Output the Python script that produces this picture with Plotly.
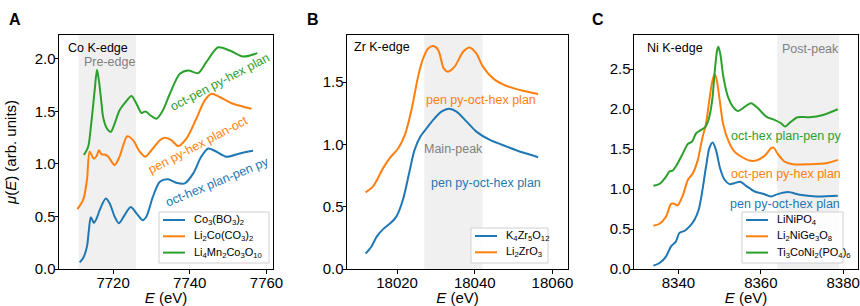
import plotly.graph_objects as go

# ---------------- Panel A : Co K-edge ----------------
a_blue_E = [7711.3, 7712.2, 7713.2, 7713.7, 7714.2, 7715.0, 7715.7, 7716.5, 7718.1, 7719.1, 7720.4, 7721.5,
            7722.8, 7724.6, 7726.1, 7727.7, 7728.7, 7730.4, 7732.2, 7734.3, 7736.5, 7738.7, 7740.9, 7743.0,
            7744.8, 7746.5, 7749.6, 7753.0, 7756.5]
a_blue_mu = [0.063, 0.104, 0.215, 0.373, 0.493, 0.44, 0.48, 0.56, 0.67, 0.625, 0.50, 0.436,
             0.50, 0.59, 0.53, 0.465, 0.50, 0.69, 0.83, 0.853, 0.82, 0.815, 0.91, 1.07,
             1.147, 1.125, 1.068, 1.10, 1.125]
a_orange_E = [7710.7, 7712.2, 7713.2, 7713.9, 7715.0, 7715.7, 7716.3, 7717.0, 7717.8, 7718.7, 7720.4, 7721.7,
              7723.7, 7725.2, 7727.0, 7728.4, 7730.0, 7732.2, 7733.5, 7735.2, 7737.0, 7739.1, 7741.7, 7743.9,
              7745.7, 7747.8, 7751.3, 7756.1]
a_orange_mu = [0.57, 0.657, 0.85, 1.115, 1.05, 1.075, 1.13, 1.09, 1.09, 1.07, 0.99, 1.07,
               1.264, 1.226, 1.115, 1.068, 1.13, 1.226, 1.25, 1.226, 1.17, 1.24, 1.43, 1.605,
               1.668, 1.637, 1.573, 1.526]
a_green_E = [7712.4, 7713.5, 7714.3, 7715.2, 7715.8, 7716.3, 7716.9, 7717.4, 7718.4, 7719.4, 7720.4, 7721.7,
             7723.3, 7724.8, 7726.1, 7727.4, 7728.5, 7729.7, 7731.3, 7733.0, 7734.8, 7737.4, 7739.6, 7742.2,
             7744.3, 7747.4, 7750.4, 7753.9, 7757.6]
a_green_mu = [1.084, 1.163, 1.384, 1.70, 1.896, 1.795, 1.605, 1.447, 1.337, 1.305, 1.384, 1.51,
              1.59, 1.646, 1.573, 1.485, 1.50, 1.463, 1.43, 1.51, 1.668, 1.858, 1.89, 1.864,
              1.968, 2.11, 2.079, 2.022, 2.054]
a_names = ["Co<sub>3</sub>(BO<sub>3</sub>)<sub>2</sub>",
           "Li<sub>2</sub>Co(CO<sub>3</sub>)<sub>2</sub>",
           "Li<sub>4</sub>Mn<sub>2</sub>Co<sub>3</sub>O<sub>10</sub>"]
a_shade = [7711, 7726]
a_xticks = [7720, 7740, 7760]
a_yticks = [0.0, 0.5, 1.0, 1.5, 2.0]

# ---------------- Panel B : Zr K-edge ----------------
b_blue_E = [18011.9, 18013.4, 18014.8, 18016.4, 18018.1, 18019.8, 18021.5, 18023.1, 18024.5, 18026.0, 18027.6,
            18029.3, 18031.4, 18033.4, 18035.3, 18037.9, 18040.4, 18043.9, 18048.2, 18052.4, 18056.3]
b_blue_mu = [0.123, 0.181, 0.262, 0.32, 0.363, 0.42, 0.555, 0.77, 0.955, 1.062, 1.129,
             1.196, 1.262, 1.286, 1.262, 1.182, 1.102, 1.035, 0.982, 0.934, 0.897]
b_orange_E = [18011.9, 18013.8, 18016.4, 18018.1, 18020.3, 18022.0, 18023.7, 18025.4, 18026.7, 18028.0, 18029.3,
              18030.6, 18032.0, 18033.1, 18034.8, 18037.0, 18038.7, 18040.4, 18042.1, 18044.7, 18048.2, 18052.4,
              18056.3]
b_orange_mu = [0.614, 0.662, 0.809, 0.889, 0.969, 1.076, 1.276, 1.543, 1.689, 1.769, 1.788,
               1.756, 1.609, 1.583, 1.623, 1.743, 1.777, 1.729, 1.623, 1.529, 1.468, 1.43,
               1.404]
b_names = ["K<sub>4</sub>Zr<sub>5</sub>O<sub>12</sub>", "Li<sub>2</sub>ZrO<sub>3</sub>"]
b_shade = [18027, 18042]
b_xticks = [18020, 18040, 18060]
b_yticks = [0.0, 0.5, 1.0, 1.5]

# ---------------- Panel C : Ni K-edge ----------------
c_blue_E = [8333.9, 8335.4, 8337.0, 8338.2, 8339.4, 8340.2, 8341.5, 8342.7, 8343.9, 8344.9, 8345.7, 8346.7,
            8347.5, 8348.3, 8349.1, 8350.1, 8351.2, 8352.4, 8353.6, 8355.0, 8356.4, 8358.5, 8360.5, 8362.5,
            8364.1, 8366.6, 8369.4, 8373.4, 8378.7]
c_blue_mu = [0.042, 0.075, 0.158, 0.283, 0.345, 0.449, 0.478, 0.532, 0.616, 0.74, 0.948, 1.281,
             1.51, 1.58, 1.489, 1.26, 1.115, 1.061, 1.073, 1.09, 1.04, 0.969, 0.94, 0.907,
             0.936, 0.961, 0.928, 0.907, 0.915]
c_orange_E = [8333.9, 8335.4, 8337.0, 8338.2, 8339.0, 8339.8, 8341.1, 8342.3, 8343.5, 8344.7, 8345.7, 8346.7,
              8347.5, 8348.2, 8348.8, 8349.3, 8350.0, 8350.9, 8352.2, 8353.6, 8355.2, 8357.2, 8358.9, 8360.9,
              8362.5, 8363.1, 8364.1, 8365.7, 8367.8, 8371.8, 8375.9, 8378.7]
c_orange_mu = [0.541, 0.566, 0.657, 0.815, 0.815, 0.795, 0.928, 1.115, 1.198, 1.364, 1.614, 1.822,
               2.113, 2.342, 2.438, 2.363, 2.113, 1.801, 1.593, 1.468, 1.406, 1.356, 1.356, 1.414,
               1.51, 1.518, 1.439, 1.344, 1.31, 1.31, 1.323, 1.364]
c_green_E = [8333.9, 8335.4, 8337.0, 8337.8, 8338.6, 8339.6, 8341.1, 8342.3, 8343.3, 8344.3, 8345.5, 8346.6,
             8347.4, 8348.2, 8348.8, 8349.4, 8349.7, 8350.2, 8350.9, 8352.0, 8353.2, 8354.4, 8355.6, 8357.6,
             8359.3, 8361.3, 8363.3, 8364.9, 8365.9, 8366.9, 8368.9, 8371.8, 8375.1, 8378.7]
c_green_mu = [1.04, 1.065, 1.156, 1.219, 1.231, 1.302, 1.448, 1.564, 1.593, 1.697, 1.739, 1.78,
              1.884, 2.113, 2.467, 2.737, 2.779, 2.675, 2.404, 2.155, 2.03, 1.976, 2.009, 2.072,
              2.009, 1.905, 1.864, 1.822, 1.78, 1.822, 1.897, 1.897, 1.926, 1.997]
c_names = ["LiNiPO<sub>4</sub>", "Li<sub>2</sub>NiGe<sub>3</sub>O<sub>8</sub>",
           "Ti<sub>3</sub>CoNi<sub>2</sub>(PO<sub>4</sub>)<sub>6</sub>"]
c_shade = [8364, 8379]
c_xticks = [8340, 8360, 8380]
c_yticks = [0.0, 0.5, 1.0, 1.5, 2.0, 2.5]

BLUE, ORANGE, GREEN = "#1f77b4", "#ff7f0e", "#2ca02c"
FONT = "Liberation Sans, Arial, sans-serif"
W, H = 860, 306


def px(x, y):
    return x / W, 1 - y / H


fig = go.Figure()


def add_line(E, mu, name, color, xa, ya):
    fig.add_trace(go.Scatter(x=E, y=mu, name=name, mode="lines", xaxis=xa, yaxis=ya, showlegend=False,
                             line=dict(color=color, width=2, shape="spline", smoothing=0.8)))


add_line(a_blue_E, a_blue_mu, a_names[0], BLUE, "x", "y")
add_line(a_orange_E, a_orange_mu, a_names[1], ORANGE, "x", "y")
add_line(a_green_E, a_green_mu, a_names[2], GREEN, "x", "y")
add_line(b_blue_E, b_blue_mu, b_names[0], BLUE, "x2", "y2")
add_line(b_orange_E, b_orange_mu, b_names[1], ORANGE, "x2", "y2")
add_line(c_blue_E, c_blue_mu, c_names[0], BLUE, "x3", "y3")
add_line(c_orange_E, c_orange_mu, c_names[1], ORANGE, "x3", "y3")
add_line(c_green_E, c_green_mu, c_names[2], GREEN, "x3", "y3")

ydom = [1 - 269 / H, 1 - 35 / H]
axis_common = dict(showline=True, linecolor="black", linewidth=1, mirror=True, ticks="outside",
                   ticklen=3.5, tickwidth=1, tickcolor="black", showgrid=False, zeroline=False,
                   ticklabelstandoff=-4,
                   tickfont=dict(family=FONT, size=15, color="black"), automargin=False)

title_font = dict(family=FONT, size=15, color="black")
fig.update_layout(
    width=W, height=H, margin=dict(l=0, r=0, t=0, b=0),
    paper_bgcolor="white", plot_bgcolor="white", showlegend=False, hovermode=False,
    xaxis=dict(domain=[59 / W, 273 / W], range=[7705.9, 7761.7], tickvals=a_xticks, tickformat="d",
               title=dict(text="<i>E</i> (eV)", font=title_font, standoff=0), anchor="y", **axis_common),
    yaxis=dict(domain=ydom, range=[0, 2.227], tickvals=a_yticks, tickformat=".1f",
               title=dict(text="<i>μ</i>(<i>E</i>) (arb. units)", font=title_font, standoff=14),
               anchor="x", **axis_common),
    xaxis2=dict(domain=[347 / W, 568 / W], range=[18007.1, 18064], tickvals=b_xticks, tickformat="d",
                title=dict(text="<i>E</i> (eV)", font=title_font, standoff=0), anchor="y2", **axis_common),
    yaxis2=dict(domain=ydom, range=[0, 1.877], tickvals=b_yticks, tickformat=".1f", anchor="x2",
                **axis_common),
    xaxis3=dict(domain=[634 / W, 858 / W], range=[8329.2, 8383.6], tickvals=c_xticks, tickformat="d",
                title=dict(text="<i>E</i> (eV)", font=title_font, standoff=0), anchor="y3", **axis_common),
    yaxis3=dict(domain=ydom, range=[0, 2.925], tickvals=c_yticks, tickformat=".1f", anchor="x3",
                **axis_common),
)

shapes = []
# shaded regions
for xr, yr, (x0, x1) in [("x", "y domain", a_shade), ("x2", "y2 domain", b_shade), ("x3", "y3 domain", c_shade)]:
    shapes.append(dict(type="rect", xref=xr, yref=yr, x0=x0, x1=x1, y0=0, y1=1,
                       fillcolor="#f0f0f0", line=dict(width=0), layer="below"))

ann = []


def text(x, y, s, color="black", size=12.5, angle=0, bold=False, xanchor="center"):
    xx, yy = px(x, y)
    if bold:
        s = "<b>" + s + "</b>"
    ann.append(dict(x=xx, y=yy, xref="paper", yref="paper", text=s, showarrow=False,
                    xanchor=xanchor, yanchor="middle", textangle=angle,
                    font=dict(family=FONT, size=size, color=color)))


# legends (box drawn in paper space, entries taken from the series names/colours)
def legend_box(left, top, right, bottom, names, colors):
    x0, y0 = px(left, bottom)
    x1, y1 = px(right, top)
    shapes.append(dict(type="rect", xref="paper", yref="paper", x0=x0, y0=y0, x1=x1, y1=y1,
                       fillcolor="rgba(255,255,255,0.85)", line=dict(color="#d0d0d0", width=1), layer="above"))
    for i, (nm, col) in enumerate(zip(names, colors)):
        yy = top + 8 + 16.3 * i
        lx0, ly = px(left + 4, yy)
        lx1, _ = px(left + 26, yy)
        shapes.append(dict(type="line", xref="paper", yref="paper", x0=lx0, x1=lx1, y0=ly, y1=ly,
                           line=dict(color=col, width=2), layer="above"))
        text(left + 33, yy, nm, size=11, xanchor="left")


legend_box(159, 212, 269, 263, a_names, [BLUE, ORANGE, GREEN])
legend_box(471, 228, 548, 263, b_names, [BLUE, ORANGE])
legend_box(742, 212, 843, 263, c_names, [BLUE, ORANGE, GREEN])

GRAY = "#808080"
# panel letters
text(15, 20, "A", size=16, bold=True)
text(313, 20, "B", size=16, bold=True)
text(598, 20, "C", size=16, bold=True)
# panel A
text(98, 48, "Co K-edge")
text(109, 62, "Pre-edge", GRAY)
text(220, 82, "oct-pen py-hex plan", GREEN, angle=-27.5)
text(198, 145, "pen py-hex plan-oct", ORANGE, angle=-27.5)
text(217, 182, "oct-hex plan-pen py", BLUE, angle=-22.5)
# panel B
text(382, 47, "Zr K-edge")
text(481, 100, "pen py-oct-hex plan", ORANGE)
text(453, 149, "Main-peak", GRAY)
text(486, 183, "pen py-oct-hex plan", BLUE)
# panel C
text(675, 48, "Ni K-edge")
text(810, 49, "Post-peak", GRAY)
text(786, 136, "oct-hex plan-pen py", GREEN)
text(786, 174, "oct-pen py-hex plan", ORANGE)
text(785, 204, "pen py-oct-hex plan", BLUE)

fig.update_layout(annotations=ann, shapes=shapes)
fig.write_html("out.html", config={"displayModeBar": False, "staticPlot": True},
               post_script="document.body.style.margin='0px';")
